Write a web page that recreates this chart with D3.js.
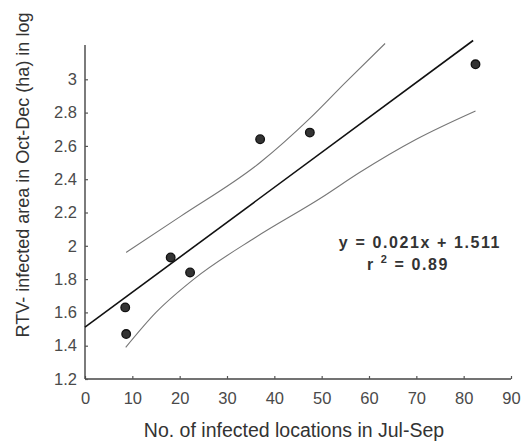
<!DOCTYPE html>
<html>
<head>
<meta charset="utf-8">
<script src="https://cdn.jsdelivr.net/npm/d3@7/dist/d3.min.js"></script>
<style>
  html, body { margin: 0; padding: 0; background: #fff; }
  svg { display: block; font-family: "Liberation Sans", Arial, Helvetica, sans-serif; }
</style>
</head>
<body>
<svg id="chart" width="522" height="442"></svg>
<script>
// Observations: infected locations (Jul-Sep) vs. log infected area (Oct-Dec)
const locations = [82.5, 37.0, 47.5, 18.1, 22.2, 8.5, 8.7];
const logArea   = [3.09, 2.64, 2.68, 1.93, 1.84, 1.63, 1.47];

// Fitted regression y = 0.021x + 1.511
const slope = 0.021;
const intercept = 1.511;
const fitRange = [0, 82];

// Confidence band edges
const upperX = [8.7, 20.1, 37.0, 47.5, 55.0, 63.4];
const upperY = [1.96, 2.175, 2.50, 2.765, 2.98, 3.215];
const lowerX = [8.6, 15.0, 23.0, 36.0, 50.0, 58.0, 70.0, 82.5];
const lowerY = [1.39, 1.60, 1.80, 2.05, 2.29, 2.44, 2.64, 2.81];

const xTicks = [0, 10, 20, 30, 40, 50, 60, 70, 80, 90];
const yTicks = [1.2, 1.4, 1.6, 1.8, 2, 2.2, 2.4, 2.6, 2.8, 3];

const xTitle = "No. of infected locations in Jul-Sep";
const yTitle = "RTV- infected area in Oct-Dec (ha) in log";
const eqText = "y = 0.021x + 1.511";
const r2Value = "0.89";

const svg = d3.select("#chart");

const x = d3.scaleLinear().domain([0, 90]).range([85, 511]);
const y = d3.scaleLinear().domain([1.2, 3.2]).range([379, 46]);

// Axes: ticks point inward, labels set apart
const xAxis = d3.axisBottom(x).tickValues(xTicks).tickSize(-3).tickPadding(13)
  .tickFormat(d3.format("d"));
const yAxis = d3.axisLeft(y).tickValues(yTicks).tickSize(-3).tickPadding(8)
  .tickFormat(d => d3.format("")(d));

const gx = svg.append("g").attr("transform", `translate(0,${y(1.2)})`).call(xAxis);
gx.select(".domain").attr("d", `M${x(0)},0H${x(90)}`);
const gy = svg.append("g").attr("transform", `translate(${x(0)},0)`).call(yAxis);
gy.select(".domain").attr("d", `M0,${y(1.2)}V${y(3.2) - 1}`);

[gx, gy].forEach(g => {
  g.select(".domain").attr("stroke", "#444").attr("stroke-width", 1.4);
  g.selectAll(".tick line").attr("stroke", "#555").attr("stroke-width", 1.2);
  g.selectAll(".tick text").attr("fill", "#4a4a4a").attr("font-size", 16.5)
    .attr("font-family", "Liberation Sans, Arial, sans-serif");
});

// Confidence band lines
const band = d3.line().x(d => x(d[0])).y(d => y(d[1])).curve(d3.curveMonotoneX);
const upper = upperX.map((v, i) => [v, upperY[i]]);
const lower = lowerX.map((v, i) => [v, lowerY[i]]);
svg.append("path").datum(upper).attr("d", band)
  .attr("fill", "none").attr("stroke", "#777").attr("stroke-width", 1.1);
svg.append("path").datum(lower).attr("d", band)
  .attr("fill", "none").attr("stroke", "#777").attr("stroke-width", 1.1);

// Regression line
const fit = fitRange.map(v => [v, slope * v + intercept]);
svg.append("path").datum(fit)
  .attr("d", d3.line().x(d => x(d[0])).y(d => y(d[1])))
  .attr("fill", "none").attr("stroke", "#111").attr("stroke-width", 1.6);

// Observed points
svg.append("g").selectAll("circle")
  .data(locations.map((v, i) => [v, logArea[i]]))
  .join("circle")
  .attr("cx", d => x(d[0])).attr("cy", d => y(d[1]))
  .attr("r", 4.3)
  .attr("fill", "#333").attr("stroke", "#111").attr("stroke-width", 1.3);

// Equation and coefficient of determination
svg.append("text")
  .attr("x", 420).attr("y", 248)
  .attr("text-anchor", "middle")
  .attr("font-size", 16).attr("font-weight", "bold")
  .attr("letter-spacing", 1.6)
  .attr("fill", "#333")
  .text(eqText);

const r2 = svg.append("text")
  .attr("x", 408).attr("y", 270)
  .attr("text-anchor", "middle")
  .attr("font-size", 16).attr("font-weight", "bold")
  .attr("letter-spacing", 1.6)
  .attr("fill", "#333");
r2.append("tspan").text("r ");
r2.append("tspan").attr("dy", -7).attr("font-size", 11).text("2");
r2.append("tspan").attr("dy", 7).text(" = " + r2Value);

// Axis titles
svg.append("text")
  .attr("x", 294).attr("y", 437)
  .attr("text-anchor", "middle")
  .attr("font-size", 19.5)
  .attr("fill", "#333")
  .text(xTitle);

svg.append("text")
  .attr("transform", `translate(29,175) rotate(-90)`)
  .attr("text-anchor", "middle")
  .attr("font-size", 18)
  .attr("fill", "#333")
  .text(yTitle);
</script>
</body>
</html>
